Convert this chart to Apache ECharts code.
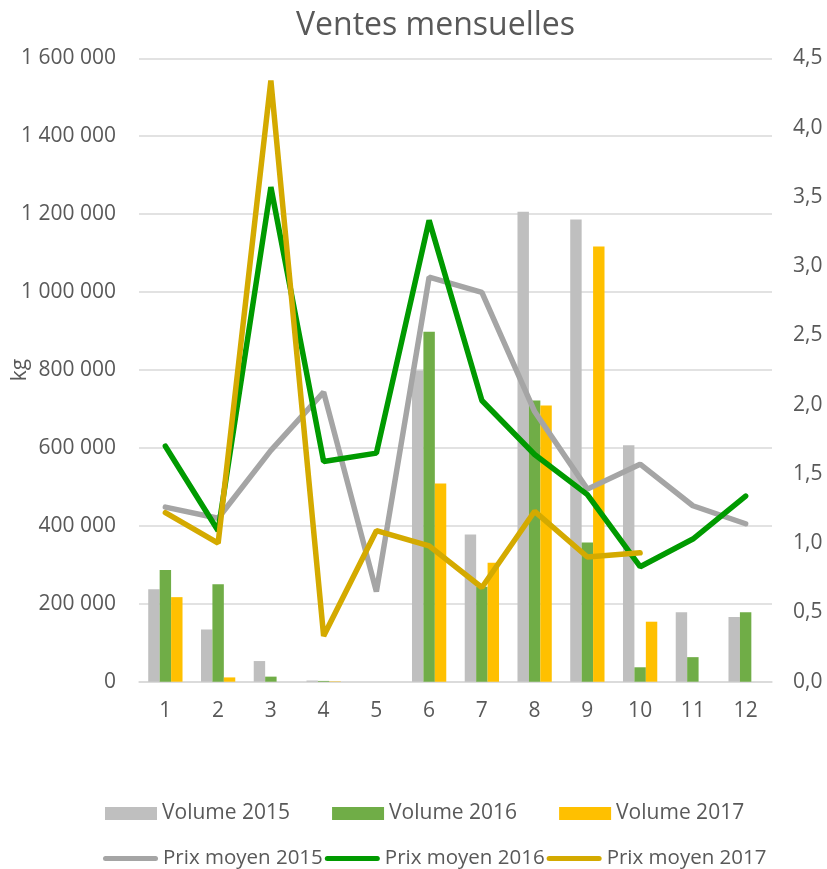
<!DOCTYPE html>
<html>
<head>
<meta charset="utf-8">
<script src="https://cdn.jsdelivr.net/npm/echarts@6/dist/echarts.min.js"></script>
<style>
  html, body { margin: 0; padding: 0; background: #fff; }
  #chart { width: 827px; height: 869px; }
</style>
</head>
<body>
<div id="chart"></div>
<script>
// mois
var months = ['1', '2', '3', '4', '5', '6', '7', '8', '9', '10', '11', '12'];

// volumes en kg (axe de gauche)
var volume2015 = [237000, 134000, 53000, 3000, 0, 799000, 378000, 1206000, 1186000, 607000, 178000, 166000];
var volume2016 = [287000, 250000, 13000, 2000, 0, 898000, 244000, 722000, 357000, 37000, 63000, 178000];
var volume2017 = [217000, 11000, 0, 1000, 0, 509000, 305000, 709000, 1117000, 154000, 0, 0];

// prix moyen (axe de droite)
var prix2015 = [1.26, 1.18, 1.67, 2.09, 0.65, 2.92, 2.81, 1.95, 1.39, 1.57, 1.27, 1.14];
var prix2016 = [1.70, 1.09, 3.57, 1.59, 1.65, 3.33, 2.03, 1.64, 1.35, 0.83, 1.03, 1.34];
var prix2017 = [1.22, 1.00, 4.34, 0.33, 1.09, 0.98, 0.68, 1.23, 0.90, 0.93, null, null];

var fontFamily = '"Open Sans", "Noto Sans", sans-serif';
var textColor = '#595959';
var gridColor = '#D9D9D9';
// trait arrondi pour la légende des courbes
var lineIcon = 'path://M2.5,0 L52.5,0 A2.5,2.5 0 0 1 52.5,5 L2.5,5 A2.5,2.5 0 0 1 2.5,0 Z';

function kg(v) {
    return String(v).replace(/\B(?=(\d{3})+(?!\d))/g, ' ');
}

function prix(v) {
    return v.toFixed(1).replace('.', ',');
}

function lineSerie(name, data, color) {
    return {
        name: name,
        type: 'line',
        yAxisIndex: 1,
        data: data,
        symbol: 'none',
        lineStyle: { color: color, width: 5.5, cap: 'round' },
        itemStyle: { color: color },
        connectNulls: false
    };
}

var option = {
    animation: false,
    backgroundColor: '#fff',
    textStyle: { fontFamily: fontFamily },
    title: {
        text: 'Ventes mensuelles',
        left: 291,
        top: 5,
        textStyle: { fontFamily: fontFamily, fontSize: 32, fontWeight: 'normal', color: textColor }
    },
    legend: [{
        data: [
            { name: 'Volume 2015', icon: 'rect' },
            { name: 'Volume 2016', icon: 'rect' },
            { name: 'Volume 2017', icon: 'rect' }
        ],
        left: 100,
        top: 798,
        itemWidth: 52,
        itemHeight: 13,
        itemGap: 42,
        textStyle: { fontFamily: fontFamily, fontSize: 21, color: textColor }
    }, {
        data: [
            { name: 'Prix moyen 2015', icon: lineIcon },
            { name: 'Prix moyen 2016', icon: lineIcon },
            { name: 'Prix moyen 2017', icon: lineIcon }
        ],
        left: 98,
        top: 843,
        itemWidth: 55,
        itemHeight: 5,
        itemGap: 2,
        textStyle: { fontFamily: fontFamily, fontSize: 20.5, color: textColor }
    }],
    grid: {
        left: 139,
        right: 55,
        top: 58.3,
        bottom: 187.3,
        outerBoundsMode: 'none',
        containLabel: false
    },
    xAxis: {
        type: 'category',
        data: months,
        axisTick: { show: false },
        axisLine: { lineStyle: { color: gridColor, width: 1.5 } },
        axisLabel: { color: textColor, fontSize: 21, margin: 19, fontFamily: fontFamily }
    },
    yAxis: [{
        type: 'value',
        min: 0,
        max: 1600000,
        interval: 200000,
        name: 'kg',
        nameLocation: 'middle',
        nameRotate: 90,
        nameGap: 108,
        nameMoveOverlap: false,
        nameTextStyle: { color: textColor, fontSize: 21, fontFamily: fontFamily },
        axisLine: { show: false },
        axisTick: { show: false },
        axisLabel: { color: textColor, fontSize: 21, margin: 23, formatter: kg, fontFamily: fontFamily },
        splitLine: { lineStyle: { color: gridColor, width: 1.5 } }
    }, {
        type: 'value',
        min: 0,
        max: 4.5,
        interval: 0.5,
        axisLine: { show: false },
        axisTick: { show: false },
        axisLabel: { color: textColor, fontSize: 21, margin: 21, formatter: prix, fontFamily: fontFamily },
        splitLine: { show: false }
    }],
    series: [
        { name: 'Volume 2015', type: 'bar', data: volume2015, itemStyle: { color: '#BFBFBF' }, barGap: '0%', barCategoryGap: '35%' },
        { name: 'Volume 2016', type: 'bar', data: volume2016, itemStyle: { color: '#70AD47' } },
        { name: 'Volume 2017', type: 'bar', data: volume2017, itemStyle: { color: '#FFC000' } },
        lineSerie('Prix moyen 2015', prix2015, '#A5A5A5'),
        lineSerie('Prix moyen 2016', prix2016, '#009A00'),
        lineSerie('Prix moyen 2017', prix2017, '#D4AA00')
    ]
};

var myChart = echarts.init(document.getElementById('chart'));
myChart.setOption(option);
</script>
</body>
</html>
